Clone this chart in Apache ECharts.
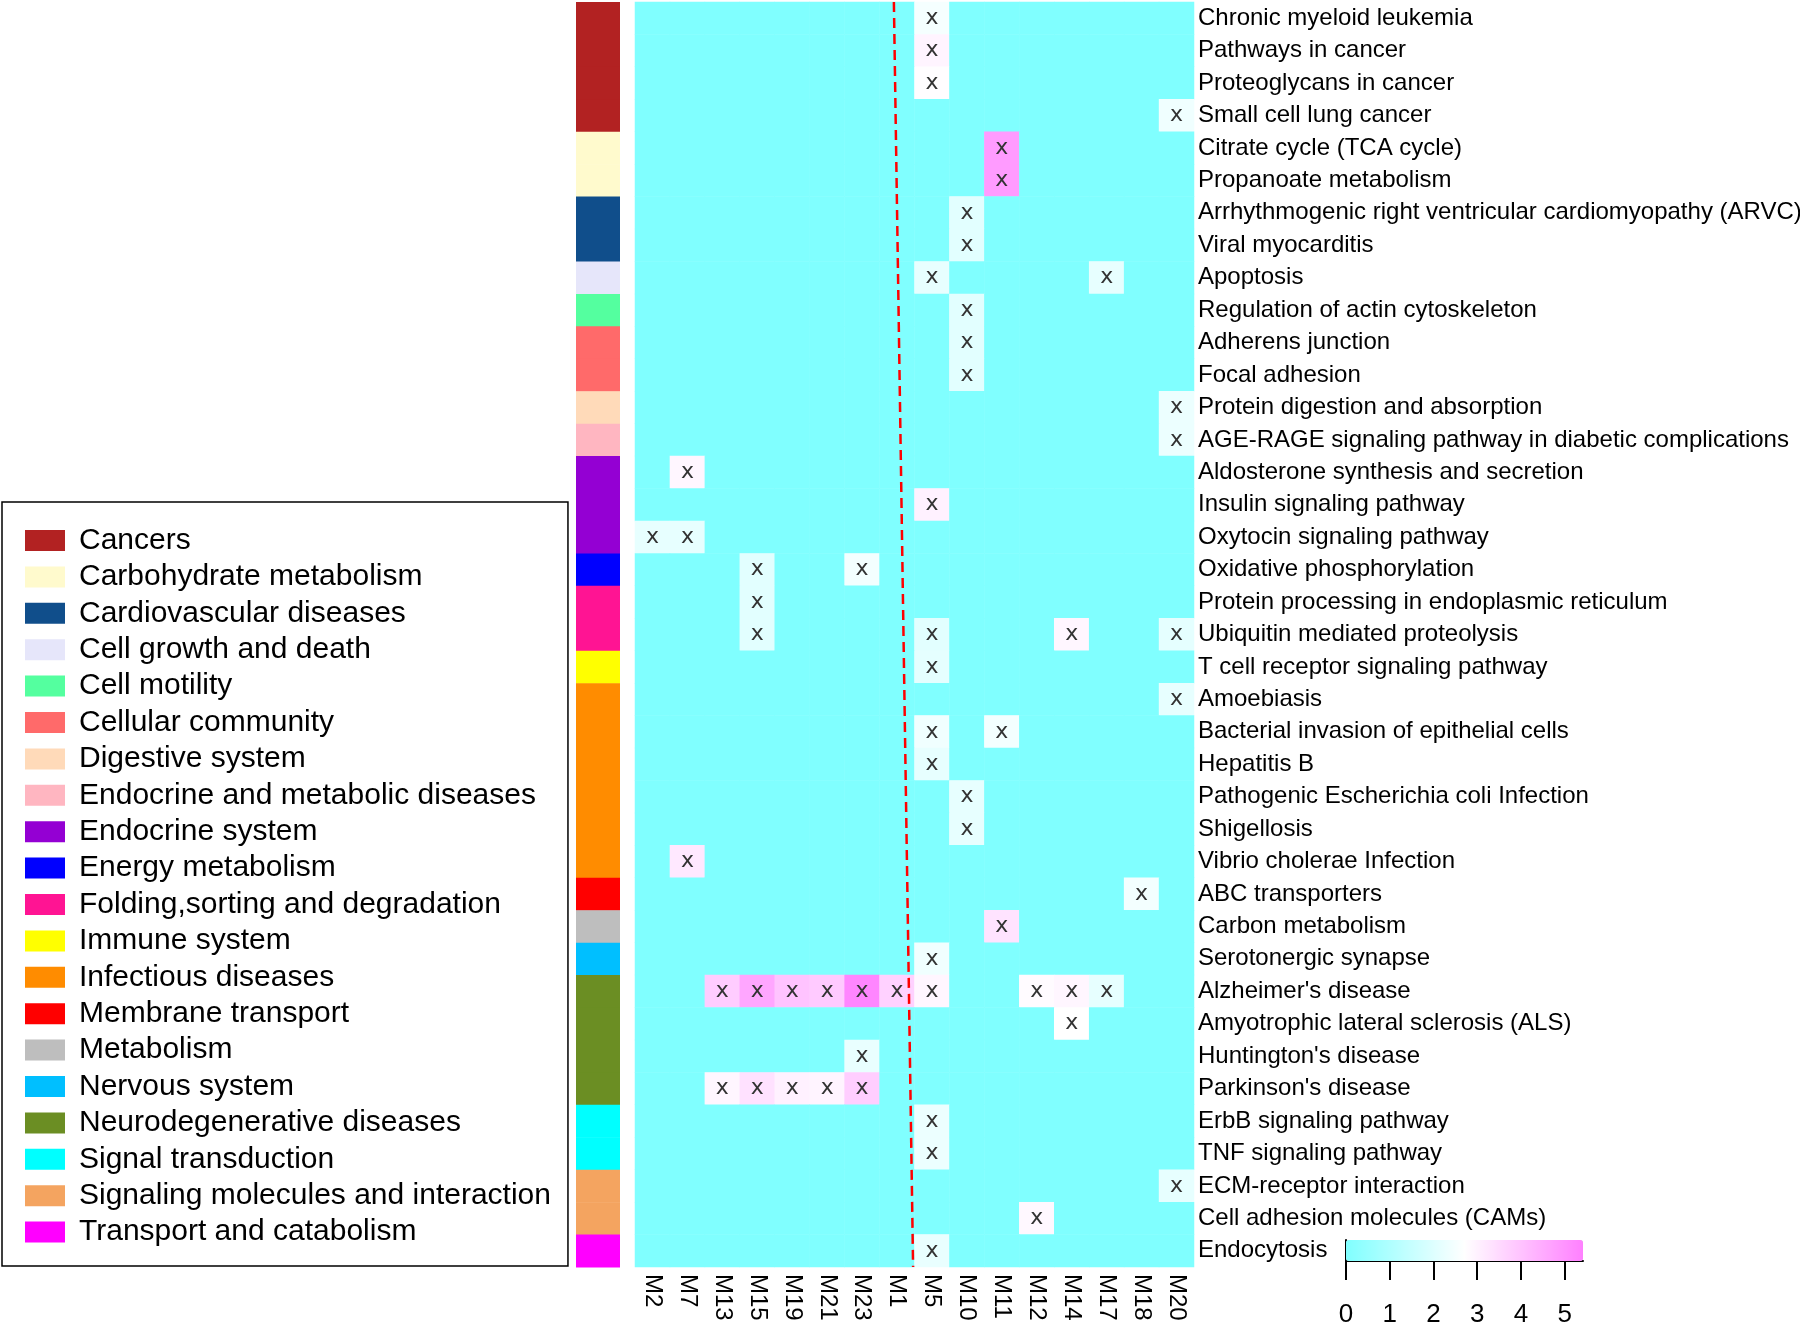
<!DOCTYPE html>
<html><head><meta charset="utf-8">
<script src="https://cdn.jsdelivr.net/npm/echarts@6/dist/echarts.min.js"></script>
<style>html,body{margin:0;padding:0;background:#fff}#c{width:1800px;height:1324px}</style>
</head><body><div id="c"></div><script>
const columns = ['M2','M7','M13','M15','M19','M21','M23','M1','M5','M10','M11','M12','M14','M17','M18','M20'];
const pathways = [
 'Chronic myeloid leukemia','Pathways in cancer','Proteoglycans in cancer','Small cell lung cancer',
 'Citrate cycle (TCA cycle)','Propanoate metabolism',
 'Arrhythmogenic right ventricular cardiomyopathy (ARVC)','Viral myocarditis',
 'Apoptosis','Regulation of actin cytoskeleton','Adherens junction','Focal adhesion',
 'Protein digestion and absorption','AGE-RAGE signaling pathway in diabetic complications',
 'Aldosterone synthesis and secretion','Insulin signaling pathway','Oxytocin signaling pathway',
 'Oxidative phosphorylation','Protein processing in endoplasmic reticulum','Ubiquitin mediated proteolysis',
 'T cell receptor signaling pathway','Amoebiasis','Bacterial invasion of epithelial cells','Hepatitis B',
 'Pathogenic Escherichia coli Infection','Shigellosis','Vibrio cholerae Infection','ABC transporters',
 'Carbon metabolism','Serotonergic synapse',"Alzheimer's disease",'Amyotrophic lateral sclerosis (ALS)',
 "Huntington's disease","Parkinson's disease",'ErbB signaling pathway','TNF signaling pathway',
 'ECM-receptor interaction','Cell adhesion molecules (CAMs)','Endocytosis'
];
const groupNames = ['Cancers','Carbohydrate metabolism','Cardiovascular diseases','Cell growth and death',
 'Cell motility','Cellular community','Digestive system','Endocrine and metabolic diseases','Endocrine system',
 'Energy metabolism','Folding,sorting and degradation','Immune system','Infectious diseases','Membrane transport',
 'Metabolism','Nervous system','Neurodegenerative diseases','Signal transduction',
 'Signaling molecules and interaction','Transport and catabolism'];
const groupColors = ['#B22222','#FFFACD','#104E8B','#E6E6FA','#54FF9F','#FF6A6A','#FFDAB9','#FFB6C1','#9400D3',
 '#0000FF','#FF1493','#FFFF00','#FF8C00','#FF0000','#BEBEBE','#00BFFF','#6B8E23','#00FFFF','#F4A460','#FF00FF'];
const groupSizes = [4,2,2,1,1,2,1,1,3,1,2,1,6,1,1,1,4,2,2,1];
const hits = [
 ['Chronic myeloid leukemia','M5',2.5],
 ['Pathways in cancer','M5',2.95],
 ['Proteoglycans in cancer','M5',2.75],
 ['Small cell lung cancer','M20',2.4],
 ['Citrate cycle (TCA cycle)','M11',4.85],
 ['Propanoate metabolism','M11',4.85],
 ['Arrhythmogenic right ventricular cardiomyopathy (ARVC)','M10',2.1],
 ['Viral myocarditis','M10',2.1],
 ['Apoptosis','M5',2.2],['Apoptosis','M17',2.2],
 ['Regulation of actin cytoskeleton','M10',2.1],
 ['Adherens junction','M10',2.1],
 ['Focal adhesion','M10',2.1],
 ['Protein digestion and absorption','M20',2.3],
 ['AGE-RAGE signaling pathway in diabetic complications','M20',2.3],
 ['Aldosterone synthesis and secretion','M7',2.9],
 ['Insulin signaling pathway','M5',3.0],
 ['Oxytocin signaling pathway','M2',2.2],['Oxytocin signaling pathway','M7',2.2],
 ['Oxidative phosphorylation','M15',2.1],['Oxidative phosphorylation','M23',2.45],
 ['Protein processing in endoplasmic reticulum','M15',2.1],
 ['Ubiquitin mediated proteolysis','M15',2.1],['Ubiquitin mediated proteolysis','M5',2.1],
 ['Ubiquitin mediated proteolysis','M14',2.9],['Ubiquitin mediated proteolysis','M20',2.15],
 ['T cell receptor signaling pathway','M5',2.15],
 ['Amoebiasis','M20',2.2],
 ['Bacterial invasion of epithelial cells','M5',2.4],['Bacterial invasion of epithelial cells','M11',2.45],
 ['Hepatitis B','M5',2.2],
 ['Pathogenic Escherichia coli Infection','M10',2.2],
 ['Shigellosis','M10',2.2],
 ['Vibrio cholerae Infection','M7',3.2],
 ['ABC transporters','M18',2.45],
 ['Carbon metabolism','M11',3.3],
 ['Serotonergic synapse','M5',2.4],
 ["Alzheimer's disease",'M13',3.8],["Alzheimer's disease",'M15',4.6],["Alzheimer's disease",'M19',4.0],
 ["Alzheimer's disease",'M21',3.85],["Alzheimer's disease",'M23',5.3],["Alzheimer's disease",'M1',3.7],
 ["Alzheimer's disease",'M5',2.9],["Alzheimer's disease",'M12',2.8],["Alzheimer's disease",'M14',2.9],
 ["Alzheimer's disease",'M17',2.2],
 ['Amyotrophic lateral sclerosis (ALS)','M14',2.72],
 ["Huntington's disease",'M23',2.25],
 ["Parkinson's disease",'M13',2.9],["Parkinson's disease",'M15',3.35],["Parkinson's disease",'M19',3.0],
 ["Parkinson's disease",'M21',2.95],["Parkinson's disease",'M23',3.75],
 ['ErbB signaling pathway','M5',2.3],
 ['TNF signaling pathway','M5',2.3],
 ['ECM-receptor interaction','M20',2.2],
 ['Cell adhesion molecules (CAMs)','M12',2.85],
 ['Endocytosis','M5',2.25]
];
const scaleMax = 5.42;
const scaleTicks = [0,1,2,3,4,5];
const separatorLine = [[7.41, 39], [7.96, 0]];

// build heatmap data (0 everywhere, values where marked)
const heatData = [];
const hitMap = {};
hits.forEach(h => { hitMap[h[0] + '|' + h[1]] = h[2]; });
pathways.forEach((p) => {
  columns.forEach((c) => {
    const v = hitMap[p + '|' + c];
    heatData.push([c, p, v === undefined ? 0 : v]);
  });
});

// group series for the side strip
const stripSeries = [];
let idx = 0;
groupNames.forEach((g, gi) => {
  const d = [];
  for (let k = 0; k < groupSizes[gi]; k++) { d.push(['g', pathways[idx]]); idx++; }
  stripSeries.push({
    name: g, type: 'custom', xAxisIndex: 2, yAxisIndex: 2,
    itemStyle: { color: groupColors[gi] },
    encode: { x: 0, y: 1 },
    renderItem: function (params, api) {
      const p = api.coord([0, api.value(1)]);
      const s = api.size([1, 1]);
      return { type: 'rect', shape: { x: p[0] - s[0] / 2, y: p[1] - s[1] / 2, width: s[0], height: s[1] + 0.6 },
               style: { fill: api.visual('color') } };
    },
    data: d, silent: true
  });
});

const FONT = 'Liberation Sans, Arial, sans-serif';
const chart = echarts.init(document.getElementById('c'), null, { renderer: 'canvas' });
chart.setOption({
  backgroundColor: '#fff',
  animation: false,
  grid: [
    { left: 635, top: 2, width: 559, height: 1265, outerBoundsMode: 'none', containLabel: false },
    { left: 576, top: 2, width: 44, height: 1265, outerBoundsMode: 'none', containLabel: false },
    { left: 1346, top: 1240, width: 237, height: 21, outerBoundsMode: 'none', containLabel: false }
  ],
  xAxis: [
    { type: 'category', gridIndex: 0, data: columns, position: 'bottom',
      axisLine: { show: false }, axisTick: { show: false }, splitLine: { show: false },
      axisLabel: { rotate: -90, fontSize: 24, fontFamily: FONT, color: '#000', margin: 7, interval: 0 } },
    { type: 'value', gridIndex: 0, min: 0, max: columns.length, show: false },
    { type: 'category', gridIndex: 1, data: ['g'], show: false },
    { type: 'value', gridIndex: 2, min: 0, max: scaleMax,
      axisLine: { show: true, lineStyle: { color: '#000', width: 2 } },
      axisTick: { show: true, length: 19, customValues: scaleTicks, lineStyle: { color: '#000', width: 2 } },
      axisLabel: { show: true, customValues: scaleTicks, fontSize: 26, fontFamily: FONT, color: '#000', margin: 41 },
      splitLine: { show: false } }
  ],
  yAxis: [
    { type: 'category', gridIndex: 0, data: pathways, inverse: true, position: 'right',
      axisLine: { show: false }, axisTick: { show: false }, splitLine: { show: false },
      axisLabel: { fontSize: 24, fontFamily: FONT, color: '#000', margin: 4, interval: 0 } },
    { type: 'value', gridIndex: 0, min: 0, max: pathways.length, show: false },
    { type: 'category', gridIndex: 1, data: pathways, inverse: true, show: false },
    { type: 'value', gridIndex: 2, min: 0, max: 1, position: 'right',
      axisLine: { show: true, lineStyle: { color: '#000', width: 2 } },
      axisTick: { show: false }, axisLabel: { show: false }, splitLine: { show: false } }
  ],
  visualMap: {
    type: 'continuous', seriesIndex: 0, min: 0, max: scaleMax, orient: 'horizontal',
    left: 1346, top: 1240, itemWidth: 21, itemHeight: 237, padding: 0,
    calculable: false, hoverLink: false, text: null, showLabel: false,
    inRange: { color: ['#80FFFF', '#FFFFFF', '#FF80FF'] }
  },
  legend: {
    orient: 'vertical', left: 2, top: 502, data: groupNames,
    itemWidth: 40, itemHeight: 21, itemGap: 6.4, icon: 'rect',
    backgroundColor: '#fff', borderColor: '#000', borderWidth: 1.5, borderRadius: 0,
    padding: [23.5, 17, 19, 23], selectedMode: false,
    textStyle: { fontSize: 30, fontFamily: FONT, color: '#000', padding: [0, 0, 0, 9] }
  },
  series: [
    { type: 'heatmap', xAxisIndex: 0, yAxisIndex: 0, data: heatData, silent: true,
      itemStyle: { borderWidth: 0 },
      label: { show: true, formatter: p => (p.value[2] > 0 ? 'x' : ''), fontSize: 22,
               fontFamily: 'DejaVu Sans, sans-serif', color: '#333' },
      emphasis: { disabled: true } },
    { type: 'line', xAxisIndex: 1, yAxisIndex: 1, data: separatorLine, symbol: 'none', silent: true, z: 5,
      lineStyle: { color: '#FF0000', width: 2.5, type: [10, 6] } }
  ].concat(stripSeries)
});
</script></body></html>
